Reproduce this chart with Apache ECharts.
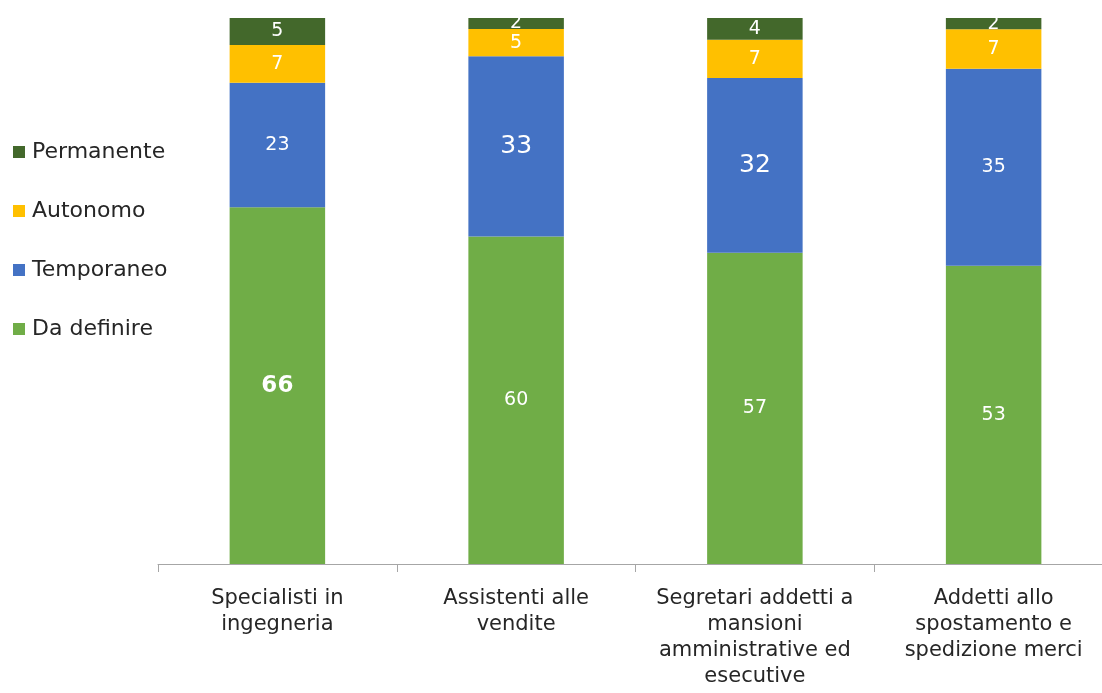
<!DOCTYPE html>
<html><head><meta charset="utf-8">
<script src="https://cdn.jsdelivr.net/npm/echarts@6/dist/echarts.min.js"></script>
<style>html,body{margin:0;padding:0;background:#fff;overflow:hidden}#c{width:1113px;height:693px}</style>
</head><body><div id="c"></div>
<script>
const categories = ["Specialisti in\ningegneria", "Assistenti alle\nvendite", "Segretari addetti a\nmansioni\namministrative ed\nesecutive", "Addetti allo\nspostamento e\nspedizione merci"];
const daDefinire = [66, 60, 57, 53];
const temporaneo = [23, 33, 32, 35];
const autonomo = [7, 5, 7, 7];
const permanente = [5, 2, 4, 2];

const seriesDefs = [
  {name: "Da definire", values: daDefinire, color: "#70AD47"},
  {name: "Temporaneo", values: temporaneo, color: "#4472C4"},
  {name: "Autonomo", values: autonomo, color: "#FFC000"},
  {name: "Permanente", values: permanente, color: "#43682B"}
];
const totals = categories.map((_, i) => seriesDefs.reduce((s, d) => s + d.values[i], 0));
const labelStyle = {
  "Da definire": [{fontSize: 23, fontWeight: "bold"}, {}, {}, {}],
  "Temporaneo": [{}, {fontSize: 25}, {fontSize: 25}, {}]
};
const FONT = "'DejaVu Sans', sans-serif";

const series = seriesDefs.map(d => ({
  name: d.name,
  type: "bar",
  stack: "all",
  barWidth: "40%",
  itemStyle: {color: d.color},
  label: {
    show: true, position: "inside", color: "#fff",
    fontFamily: FONT, fontSize: 19,
    formatter: p => d.values[p.dataIndex]
  },
  data: d.values.map((v, i) => {
    const item = {value: v / totals[i] * 100};
    const ls = (labelStyle[d.name] || [])[i];
    if (ls && Object.keys(ls).length) item.label = ls;
    return item;
  })
}));

const chart = echarts.init(document.getElementById("c"));
chart.setOption({
  animation: false,
  legend: {
    data: ["Permanente", "Autonomo", "Temporaneo", "Da definire"],
    orient: "vertical", left: 13, top: 141, padding: 0,
    itemWidth: 12, itemHeight: 12, itemGap: 37,
    icon: "rect",
    textStyle: {fontFamily: FONT, fontSize: 22, color: "#262626", padding: [0,0,0,2]}
  },
  grid: {left: 158, top: 18, bottom: 129, right: 0},
  xAxis: {
    type: "category", data: categories,
    axisLine: {lineStyle: {color: "#A6A6A6", width: 1}},
    axisTick: {show: true, length: 8, lineStyle: {color: "#A6A6A6"}},
    axisLabel: {fontFamily: FONT, fontSize: 21, color: "#262626", lineHeight: 26, margin: 22, interval: 0}
  },
  yAxis: {type: "value", min: 0, max: 100, show: false},
  series: series
});
</script></body></html>
